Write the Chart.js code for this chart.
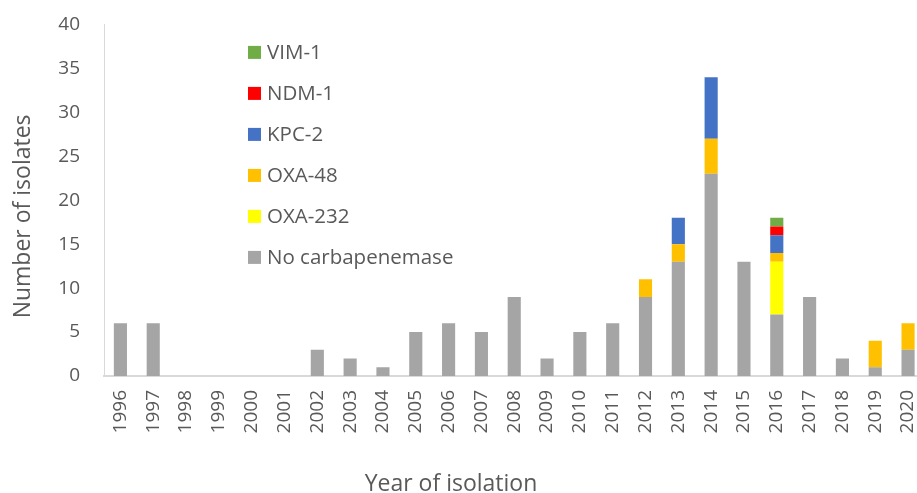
<!DOCTYPE html>
<html>
<head>
<meta charset="utf-8">
<script src="https://cdn.jsdelivr.net/npm/chart.js@4/dist/chart.umd.min.js"></script>
<style>
html,body{margin:0;padding:0;background:#fff;overflow:hidden;}
#wrap{width:917px;height:493px;overflow:hidden;position:relative;}
canvas{display:block;position:absolute;left:0;top:-11px;}
</style>
</head>
<body>
<div id="wrap"><canvas id="c" width="945" height="504"></canvas></div>
<script>
const years = ['1996','1997','1998','1999','2000','2001','2002','2003','2004','2005','2006','2007','2008','2009','2010','2011','2012','2013','2014','2015','2016','2017','2018','2019','2020'];
const noCarbapenemase = [6,6,0,0,0,0,3,2,1,5,6,5,9,2,5,6,9,13,23,13,7,9,2,1,3];
const oxa232 = [0,0,0,0,0,0,0,0,0,0,0,0,0,0,0,0,0,0,0,0,6,0,0,0,0];
const oxa48  = [0,0,0,0,0,0,0,0,0,0,0,0,0,0,0,0,2,2,4,0,1,0,0,3,3];
const kpc2   = [0,0,0,0,0,0,0,0,0,0,0,0,0,0,0,0,0,3,7,0,2,0,0,0,0];
const ndm1   = [0,0,0,0,0,0,0,0,0,0,0,0,0,0,0,0,0,0,0,0,1,0,0,0,0];
const vim1   = [0,0,0,0,0,0,0,0,0,0,0,0,0,0,0,0,0,0,0,0,1,0,0,0,0];
const yTicks = [0,5,10,15,20,25,30,35,40];
const xTitle = 'Year of isolation';
const yTitle = 'Number of isolates';

const FONT = '"Open Sans", Lato, sans-serif';
const TXT = '#595959';

function ds(label, data, color){
  return {label, data, backgroundColor: color, borderColor: color, borderWidth: 0,
          barPercentage: 0.8, categoryPercentage: 0.5, stack: 's'};
}

const decorPlugin = {
  id: 'decor',
  afterDraw(chart){
    const ctx = chart.ctx;
    const a = chart.chartArea;
    const items = chart.data.datasets.slice().reverse();
    ctx.save();
    ctx.font = '20.5px ' + FONT;
    ctx.textBaseline = 'middle';
    ctx.textAlign = 'left';
    items.forEach((d, i) => {
      const y = a.top + 28 + i * 41;
      const x = a.left + 144;
      ctx.fillStyle = d.backgroundColor;
      ctx.fillRect(x, y - 6.5, 13, 13);
      ctx.fillStyle = TXT;
      ctx.fillText(d.label, x + 19, y + 1);
    });
    // axis titles
    ctx.font = '23px ' + FONT;
    ctx.fillStyle = TXT;
    ctx.textAlign = 'center';
    ctx.fillText(xTitle, 451, a.bottom + 108);
    ctx.translate(23, a.top + 192);
    ctx.rotate(-Math.PI / 2);
    ctx.fillText(yTitle, 0, 0);
    ctx.restore();
  }
};

new Chart(document.getElementById('c'), {
  type: 'bar',
  data: {
    labels: years,
    datasets: [
      ds('No carbapenemase', noCarbapenemase, '#A5A5A5'),
      ds('OXA-232', oxa232, '#FFFF00'),
      ds('OXA-48', oxa48, '#FFC000'),
      ds('KPC-2', kpc2, '#4472C4'),
      ds('NDM-1', ndm1, '#FF0000'),
      ds('VIM-1', vim1, '#70AD47')
    ]
  },
  options: {
    responsive: false,
    animation: false,
    layout: { padding: { top: 0, right: 7, left: 0, bottom: 0 } },
    plugins: { legend: { display: false }, tooltip: { enabled: false } },
    scales: {
      x: {
        stacked: true,
        offset: true,
        grid: { display: false, drawTicks: false },
        border: { display: true, color: '#D9D9D9', width: 2 },
        ticks: { color: TXT, font: { family: FONT, size: 19 }, minRotation: 90, maxRotation: 90, padding: 14, autoSkip: false },
        afterFit(s){ s.height = 117; }
      },
      y: {
        stacked: true,
        min: 0, max: 40,
        afterBuildTicks(s){ s.ticks = yTicks.map(v => ({ value: v })); },
        grid: { display: false, drawTicks: false },
        border: { display: true, color: '#D9D9D9', width: 1 },
        ticks: { color: TXT, font: { family: FONT, size: 19 }, padding: 24 },
        afterFit(s){ s.width = 104; }
      }
    }
  },
  plugins: [decorPlugin]
});
</script>
</body>
</html>
